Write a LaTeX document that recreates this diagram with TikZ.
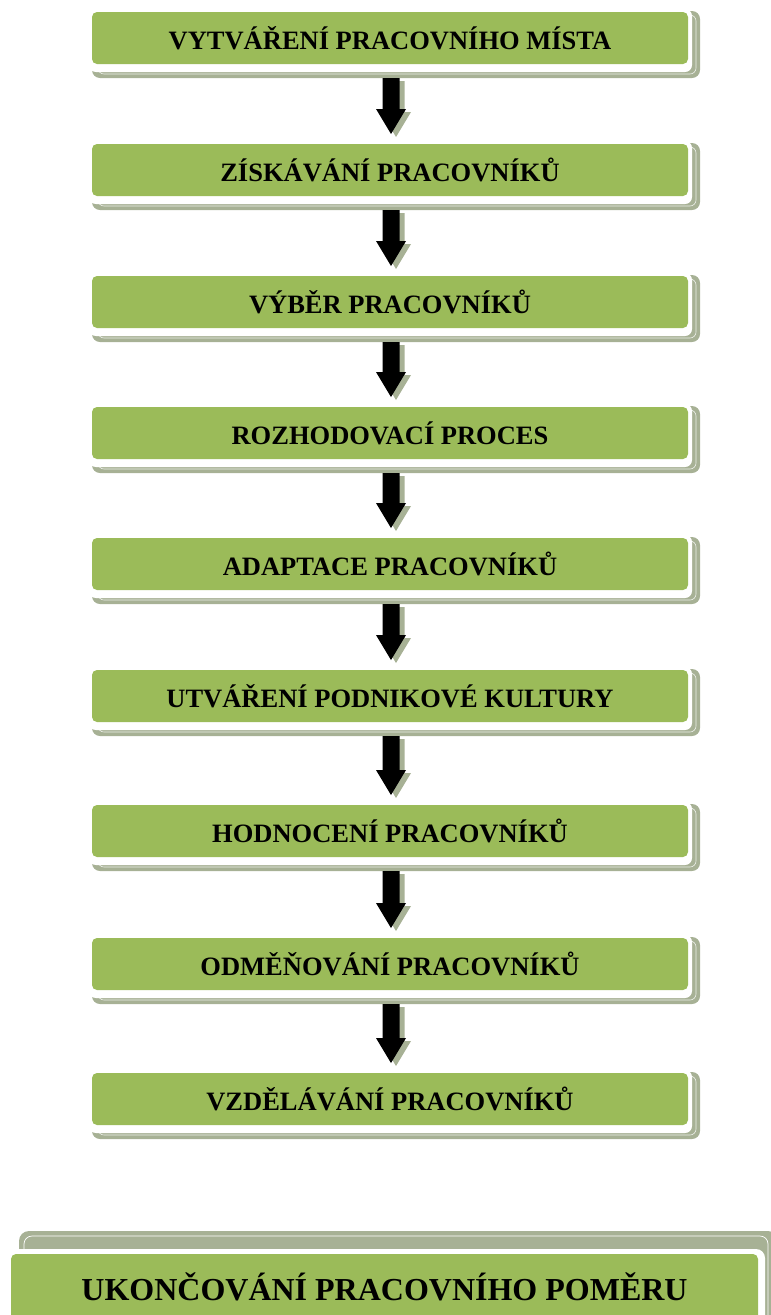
\documentclass[tikz,border=0pt]{standalone}
\usepackage{fontspec}
\setmainfont{Liberation Serif}
\usetikzlibrary{calc,backgrounds}
\definecolor{boxgreen}{HTML}{9BBB59}
\definecolor{shadegray}{HTML}{A7B195}
\newcommand\blockarr[4]{%
  \fill[#3] ($(#1.south)+(-7.5,14)+#4$) -- ($(#1.south)+(9.5,14)+#4$)
    -- ($(#2.north)+(9.5,-35)+#4$) -- ($(#2.north)+(16,-35)+#4$)
    -- ($(#2.north)+(1,-10)+#4$) -- ($(#2.north)+(-14,-35)+#4$)
    -- ($(#2.north)+(-7.5,-35)+#4$) -- cycle;}
\newcommand\boxback[1]{%
  \fill[shadegray, rounded corners=8pt] ($(#1.north west)+(0,-1)$) rectangle ($(#1.south east)+(12,14)$);
  \draw[white, line width=0.6pt, opacity=0.8, rounded corners=6pt] ($(#1.north west)+(6,3)$) rectangle ($(#1.south east)+(8,10)$);
  \fill[white, rounded corners=7pt] ($(#1.north west)+(-3,-3)$) rectangle ($(#1.south east)+(4,8)$);}
\begin{document}
\begin{tikzpicture}[x=1pt,y=-1pt,
  stepbox/.style={fill=boxgreen, rounded corners=5pt, minimum width=596pt, minimum height=52pt,
    inner sep=0pt, outer sep=0pt, text=black, font=\fontsize{26.5}{30}\selectfont\bfseries},
  bigbox/.style={stepbox, minimum width=747pt, minimum height=66pt, font=\fontsize{32}{36}\selectfont\bfseries},
  arrowbody/.style={fill=black},
  arrowshade/.style={fill=shadegray}]
\useasboundingbox (0,0) rectangle (771,1315);
\node[stepbox] (b1) at (390,38) {VYTVÁŘENÍ PRACOVNÍHO MÍSTA};
\node[stepbox] (b2) at (390,170) {ZÍSKÁVÁNÍ PRACOVNÍKŮ};
\node[stepbox] (b3) at (390,302) {VÝBĚR PRACOVNÍKŮ};
\node[stepbox] (b4) at (390,433) {ROZHODOVACÍ PROCES};
\node[stepbox] (b5) at (390,564) {ADAPTACE PRACOVNÍKŮ};
\node[stepbox] (b6) at (390,696) {UTVÁŘENÍ PODNIKOVÉ KULTURY};
\node[stepbox] (b7) at (390,831) {HODNOCENÍ PRACOVNÍKŮ};
\node[stepbox] (b8) at (390,964) {ODMĚŇOVÁNÍ PRACOVNÍKŮ};
\node[stepbox] (b9) at (390,1099) {VZDĚLÁVÁNÍ PRACOVNÍKŮ};
\node[bigbox] (b10) at (384.5,1287) {UKONČOVÁNÍ PRACOVNÍHO POMĚRU};
\begin{pgfonlayer}{background}
  \foreach \b in {b1,b2,b3,b4,b5,b6,b7,b8,b9}{\boxback{\b}}
  \fill[shadegray, rounded corners=10pt] ($(b10.north west)+(8,-23)$) rectangle ($(b10.south east)+(20,20)$);
  \draw[white, line width=0.7pt, rounded corners=8pt] ($(b10.north west)+(13,-18)$) rectangle ($(b10.south east)+(10,20)$);
  \fill[white, rounded corners=9pt] ($(b10.north west)+(-4,-5)$) rectangle ($(b10.south east)+(7,20)$);
\end{pgfonlayer}
\foreach \a/\c in {b1/b2,b2/b3,b3/b4,b4/b5,b5/b6,b6/b7,b7/b8,b8/b9}{
  \blockarr{\a}{\c}{arrowshade}{(5,3)}
  \blockarr{\a}{\c}{arrowbody}{(0,0)}
}
\end{tikzpicture}
\end{document}
